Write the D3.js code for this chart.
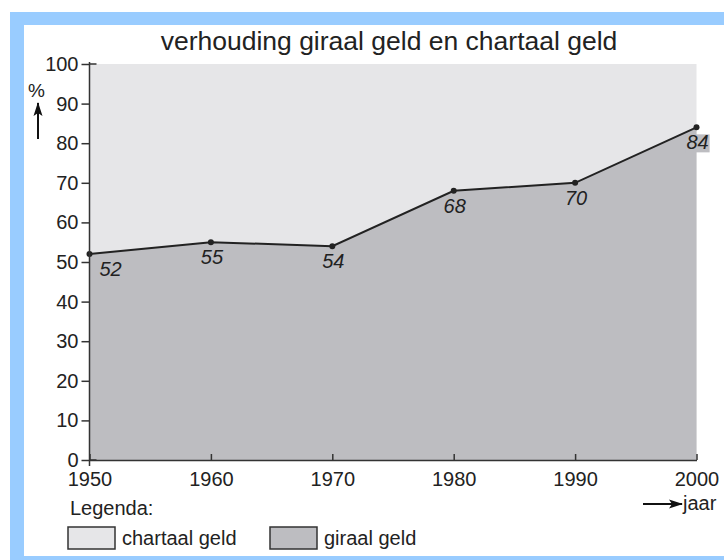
<!DOCTYPE html>
<html>
<head>
<meta charset="utf-8">
<script src="https://cdn.jsdelivr.net/npm/d3@7"></script>
<style>
  body { margin: 0; background: #fff; }
  text { font-family: "Liberation Sans", Arial, sans-serif; fill: #222; }
</style>
</head>
<body>
<script>
// data
var years = [1950, 1960, 1970, 1980, 1990, 2000];
var giraal = [52, 55, 54, 68, 70, 84];
var yTicks = [0, 10, 20, 30, 40, 50, 60, 70, 80, 90, 100];
var title = "verhouding giraal geld en chartaal geld";
var legendItems = ["chartaal geld", "giraal geld"];

var W = 724, H = 560;
var lightFill = "#e6e6e8", darkFill = "#bdbdc1";

var svg = d3.select("body").append("svg")
  .attr("width", W).attr("height", H);

// blue frame
svg.append("rect").attr("x", 10).attr("y", 12).attr("width", W).attr("height", H - 12)
  .attr("fill", "#99ccff");
svg.append("rect").attr("x", 24).attr("y", 25).attr("width", W).attr("height", 531)
  .attr("fill", "#fff");

var x = d3.scaleLinear().domain([1950, 2000]).range([89.5, 696.5]);
var y = d3.scaleLinear().domain([0, 100]).range([460, 64]);

// background (chartaal)
svg.append("rect")
  .attr("x", x(1950)).attr("y", y(100))
  .attr("width", x(2000) - x(1950)).attr("height", y(0) - y(100))
  .attr("fill", lightFill);

var pts = years.map(function(d, i) { return {year: d, v: giraal[i]}; });

// giraal area
var area = d3.area().x(function(d) { return x(d.year); })
  .y0(y(0)).y1(function(d) { return y(d.v); });
svg.append("path").datum(pts).attr("d", area).attr("fill", darkFill);

// line
var line = d3.line().x(function(d) { return x(d.year); }).y(function(d) { return y(d.v); });
svg.append("path").datum(pts).attr("d", line)
  .attr("fill", "none").attr("stroke", "#222").attr("stroke-width", 2);

svg.selectAll("circle.pt").data(pts).enter().append("circle")
  .attr("cx", function(d) { return x(d.year); })
  .attr("cy", function(d) { return y(d.v); })
  .attr("r", 3).attr("fill", "#222");

// value labels
var labels = svg.selectAll("g.lbl").data(pts).enter().append("g");
labels.each(function(d, i) {
  var g = d3.select(this);
  var lx = i === 0 ? x(d.year) + 10 : x(d.year) + 1;
  var t = g.append("text")
    .attr("x", lx).attr("y", y(d.v) + 22)
    .attr("text-anchor", i === 0 ? "start" : "middle")
    .style("font-size", "20px").style("font-style", "italic")
    .text(d.v);
  if (i === pts.length - 1) {
    var b = t.node().getBBox();
    g.insert("rect", "text").attr("x", b.x - 1).attr("y", b.y + 3)
      .attr("width", b.width + 2).attr("height", b.height - 4).attr("fill", darkFill);
  }
});

// y axis
var yAxis = svg.append("g").attr("transform", "translate(" + x(1950) + ",0)")
  .call(d3.axisLeft(y).tickValues(yTicks).tickSize(8).tickPadding(3));
yAxis.select(".domain").attr("d", "M0," + (y(100) - 2) + "V" + (y(0) + 6));
yAxis.selectAll("line, .domain").attr("stroke", "#333").attr("stroke-width", 1.5);
yAxis.selectAll("text").style("font-size", "20px").attr("fill", "#222")
  .style("font-family", "'Liberation Sans', Arial, sans-serif");
// ticks crossing at 0 and 100
[0, 100].forEach(function(v) {
  svg.append("line").attr("x1", x(1950)).attr("x2", x(1950) + 7)
    .attr("y1", y(v)).attr("y2", y(v)).attr("stroke", "#333").attr("stroke-width", 1.5);
});

// x axis
var xAxis = svg.append("g").attr("transform", "translate(0," + y(0) + ")")
  .call(d3.axisBottom(x).tickValues(years).tickFormat(d3.format("d")).tickSize(0).tickPadding(12));
xAxis.select(".domain").attr("stroke", "#333").attr("stroke-width", 1.5);
xAxis.selectAll(".tick").append("line").attr("y1", 0).attr("y2", -6)
  .attr("stroke", "#333").attr("stroke-width", 1.5);
xAxis.selectAll("text").style("font-size", "20px").attr("fill", "#222")
  .style("font-family", "'Liberation Sans', Arial, sans-serif");

// title
svg.append("text").attr("x", 389).attr("y", 50).attr("text-anchor", "middle")
  .style("font-size", "26.5px").text(title);

// arrows
var defs = svg.append("defs");
defs.append("marker").attr("id", "ah").attr("viewBox", "0 0 14 10")
  .attr("refX", 13).attr("refY", 5).attr("markerWidth", 14).attr("markerHeight", 10)
  .attr("markerUnits", "userSpaceOnUse").attr("orient", "auto")
  .append("path").attr("d", "M0,0.5L14,5L0,9.5L3,5z").attr("fill", "#111");

svg.append("text").attr("x", 28).attr("y", 97).style("font-size", "19px").text("%");
svg.append("line").attr("x1", 38).attr("y1", 139).attr("x2", 38).attr("y2", 103)
  .attr("stroke", "#111").attr("stroke-width", 2).attr("marker-end", "url(#ah)");

svg.append("line").attr("x1", 643).attr("y1", 504).attr("x2", 682).attr("y2", 504)
  .attr("stroke", "#111").attr("stroke-width", 2).attr("marker-end", "url(#ah)");
svg.append("text").attr("x", 683).attr("y", 510).style("font-size", "20px").text("jaar");

// legend
svg.append("text").attr("x", 70).attr("y", 515).style("font-size", "20px").text("Legenda:");
var legX = [68, 270], legFill = [lightFill, darkFill];
legendItems.forEach(function(name, i) {
  svg.append("rect").attr("x", legX[i]).attr("y", 527).attr("width", 47).attr("height", 22)
    .attr("fill", legFill[i]).attr("stroke", "#333").attr("stroke-width", 1.5);
  svg.append("text").attr("x", legX[i] + 54).attr("y", 545).style("font-size", "20px").text(name);
});
</script>
</body>
</html>
